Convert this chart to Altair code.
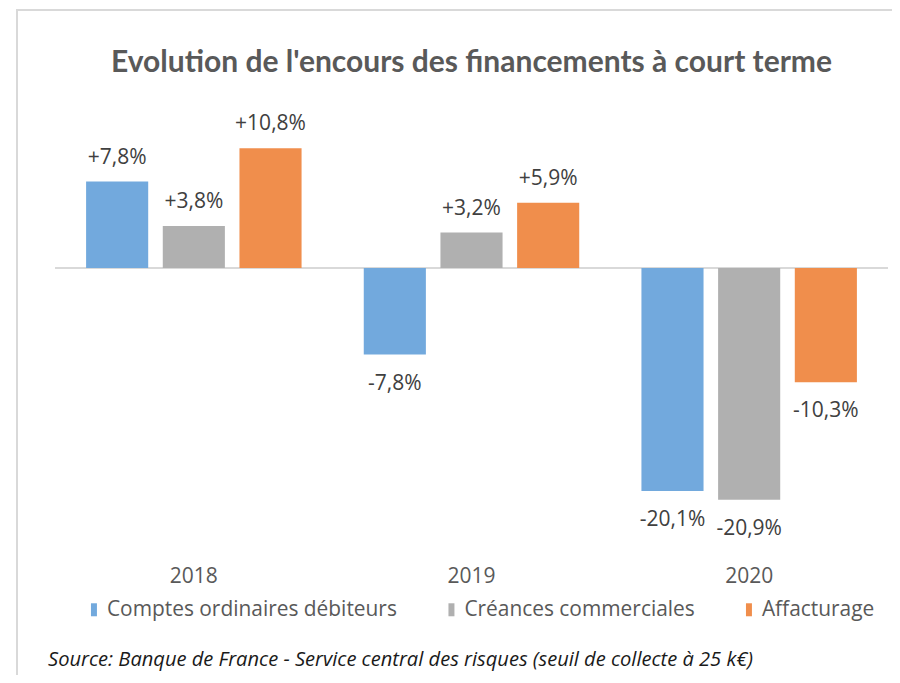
import altair as alt
import pandas as pd

years = ["2018", "2019", "2020"]
series = ["Comptes ordinaires débiteurs", "Créances commerciales", "Affacturage"]
values_comptes = [7.8, -7.8, -20.1]
values_creances = [3.8, 3.2, -20.9]
values_affact = [10.8, 5.9, -10.3]
colors = ["#72A9DD", "#B0B0B0", "#F08E4C"]

rows = []
for s, vals in zip(series, [values_comptes, values_creances, values_affact]):
    for y, v in zip(years, vals):
        lab = ("+" if v > 0 else "") + f"{v:.1f}".replace(".", ",") + "%"
        rows.append({"year": y, "series": s, "value": v, "label": lab})
df = pd.DataFrame(rows)

FONT = "Open Sans"
TFONT = "Lato"

x_enc = alt.X("year:N", sort=years,
              scale=alt.Scale(paddingInner=0.224, paddingOuter=0.112),
              axis=alt.Axis(title=None, domain=False, ticks=False, labelAngle=0,
                            labelFontSize=21, labelColor="#595959", labelFont=FONT,
                            labelPadding=53))
xo = alt.XOffset("series:N", sort=series,
                 scale=alt.Scale(paddingInner=0.19, paddingOuter=0))
y_enc = alt.Y("value:Q", scale=alt.Scale(domain=[-22, 12], nice=False, zero=False), axis=None)

base = alt.Chart(df)

bars = base.mark_bar().encode(
    x=x_enc, xOffset=xo, y=y_enc, y2=alt.datum(0),
    color=alt.Color("series:N", sort=series,
                    scale=alt.Scale(domain=series, range=colors),
                    legend=alt.Legend(title=None, orient="none", direction="horizontal",
                                      legendX=28.5, legendY=464,
                                      symbolType="M-0.46,-1L0.46,-1L0.46,1L-0.46,1Z",
                                      symbolSize=169, symbolStrokeWidth=0,
                                      labelFontSize=20.9, labelColor="#595959", labelFont=FONT,
                                      labelOffset=2.5, columnPadding=43.5, labelLimit=400)),
)

zero = alt.Chart(pd.DataFrame({"z": [0]})).mark_rule(color="#D9D9D9", strokeWidth=2).encode(
    y=alt.Y("z:Q", scale=alt.Scale(domain=[-22, 12], nice=False, zero=False), axis=None),
    x=alt.value(0), x2=alt.value(833))

pos_lab = base.transform_filter("datum.value > 0").mark_text(
    fontSize=21, color="#404040", font=FONT, baseline="middle", dy=-24).encode(
    x=x_enc, xOffset=xo, y=y_enc, text="label:N")
neg_lab = base.transform_filter("datum.value < 0").mark_text(
    fontSize=21, color="#404040", font=FONT, baseline="middle", dy=29).encode(
    x=x_enc, xOffset=xo, y=y_enc, text="label:N")

source = alt.Chart(pd.DataFrame({"t": ["Source: Banque de France - Service central des risques (seuil de collecte à 25 k€)"]})).mark_text(
    fontSize=20.1, fontStyle="italic", font=FONT, color="#1a1a1a", align="left", baseline="middle").encode(
    x=alt.value(-7), y=alt.value(525), text="t:N")

border = alt.Chart(pd.DataFrame({"b": [1]})).mark_rect(
    fill="transparent", stroke="#D9D9D9", strokeWidth=2).encode(
    x=alt.value(-38), x2=alt.value(900), y=alt.value(-125), y2=alt.value(700))

chart = alt.layer(border, zero, bars, pos_lab, neg_lab, source).properties(
    width=833, height=377,
    title=alt.TitleParams("Evolution de l'encours des financements à court terme",
                          frame="group", anchor="middle", offset=0, dy=84, baseline="middle",
                          fontSize=30, fontWeight="bold", color="#595959", font=TFONT),
    autosize=alt.AutoSizeParams(type="none"),
    padding={"left": 47, "top": 127, "right": 4, "bottom": 163},
).configure_view(stroke=None)

chart.save("out.html", embed_options={"renderer": "svg", "actions": False})
